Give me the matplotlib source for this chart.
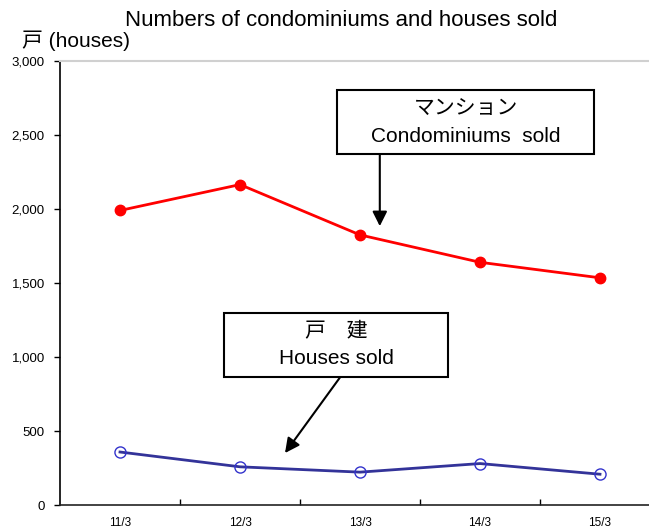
import numpy as np
import matplotlib
matplotlib.use("Agg")
import matplotlib.pyplot as plt
from matplotlib.patches import Rectangle
from matplotlib.ticker import FuncFormatter, FixedLocator

periods = ["11/3", "12/3", "13/3", "14/3", "15/3"]
condos = [1990, 2165, 1825, 1640, 1535]
houses = [358, 258, 222, 280, 208]

title = "Numbers of condominiums and houses sold"
unit_label = "戸 (houses)"
condo_label = ["マンション", "Condominiums  sold"]
house_label = ["戸　建", "Houses sold"]

jp = ["Liberation Sans", "Noto Sans CJK JP", "DejaVu Sans"]
narrow = ["Liberation Sans Narrow", "Liberation Sans", "DejaVu Sans"]

fig = plt.figure(figsize=(6.49, 5.29), dpi=100)
W, H = 649, 529
ax = fig.add_axes([60 / W, (H - 505) / H, 600 / W, 444 / H])

x = np.arange(len(periods))
ax.plot(x, condos, color="#ff0000", lw=2, marker="o", ms=7.5,
        mfc="#ff0000", mec="#ff0000", zorder=3)
ax.plot(x, houses, color="#333399", lw=2, marker="o", ms=8,
        mfc="none", mec="#3333cc", mew=1, zorder=3)

ax.set_xlim(-0.5, 4.5)
ax.set_ylim(0, 3000)
ax.set_yticks(np.arange(0, 3001, 500))
ax.yaxis.set_major_formatter(FuncFormatter(lambda v, p: f"{int(v):,}"))
ax.tick_params(axis="y", direction="out", length=4, width=1, pad=7, labelsize=9.5)
for lab in ax.get_yticklabels():
    lab.set_family(narrow)

ax.set_xticks(x)
ax.set_xticklabels(periods, family=narrow, fontsize=8.5)
ax.tick_params(axis="x", which="major", length=0, pad=9)
ax.xaxis.set_minor_locator(FixedLocator(x[:-1] + 0.5))
ax.tick_params(axis="x", which="minor", direction="in", length=4, width=1)

ax.spines["left"].set_linewidth(1.2)
ax.spines["bottom"].set_linewidth(1.2)
ax.spines["bottom"].set_color("#222222")
ax.spines["top"].set_color("#d0d0d0")
ax.spines["top"].set_linewidth(1.5)
ax.spines["right"].set_visible(False)

fig.text(341 / W, 1 - 21 / H, title, ha="center", va="center",
         fontsize=16, family=jp)
fig.text(22 / W, 1 - 41 / H, unit_label, ha="left", va="center",
         fontsize=15, family=jp)

# callout boxes (axes fraction)
boxes = [
    ((0.4617, 0.7905), 0.4283, 0.1442, 0.676, (0.894, 0.829), condo_label,
     (0.533, 0.7905), (0.533, 0.628)),
    ((0.273, 0.288), 0.374, 0.144, 0.46, (0.392, 0.329), house_label,
     (0.467, 0.288), (0.375, 0.117)),
]
for (x0, y0), bw, bh, cx, (ty1, ty2), labels, a_from, a_to in boxes:
    ax.add_patch(Rectangle((x0, y0), bw, bh, transform=ax.transAxes,
                           fill=True, fc="white", ec="black", lw=1.5, zorder=4))
    ax.text(cx, ty1, labels[0], transform=ax.transAxes, ha="center", va="center",
            fontsize=15, family=jp, zorder=5)
    ax.text(cx, ty2, labels[1], transform=ax.transAxes, ha="center", va="center",
            fontsize=15, family=jp, zorder=5)
    ax.annotate("", xy=a_to, xytext=a_from, xycoords="axes fraction",
                textcoords="axes fraction",
                arrowprops=dict(arrowstyle="-|>", color="black", lw=1.5,
                                mutation_scale=22, shrinkA=0, shrinkB=0),
                zorder=5)

fig.savefig("out.png", dpi=100)
